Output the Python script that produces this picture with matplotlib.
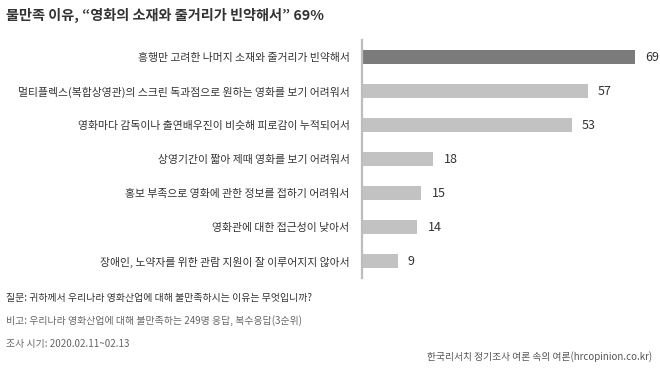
import matplotlib
matplotlib.use("Agg")
import matplotlib.pyplot as plt

plt.rcParams["font.family"] = ["Noto Sans CJK KR", "DejaVu Sans"]

# ── 데이터 ─────────────────────────────────────────
reasons = [
    "흥행만 고려한 나머지 소재와 줄거리가 빈약해서",
    "멀티플렉스(복합상영관)의 스크린 독과점으로 원하는 영화를 보기 어려워서",
    "영화마다 감독이나 출연배우진이 비슷해 피로감이 누적되어서",
    "상영기간이 짧아 제때 영화를 보기 어려워서",
    "홍보 부족으로 영화에 관한 정보를 접하기 어려워서",
    "영화관에 대한 접근성이 낮아서",
    "장애인, 노약자를 위한 관람 지원이 잘 이루어지지 않아서",
]
values = [69, 57, 53, 18, 15, 14, 9]

title = "불만족 이유, \u201c영화의 소재와 줄거리가 빈약해서\u201d 69%"
notes = [
    "질문: 귀하께서 우리나라 영화산업에 대해 불만족하시는 이유는 무엇입니까?",
    "비고: 우리나라 영화산업에 대해 불만족하는 249명 응답, 복수응답(3순위)",
    "조사 시기: 2020.02.11~02.13",
]
source = "한국리서치 정기조사 여론 속의 여론(hrcopinion.co.kr)"

# ── 그림 ───────────────────────────────────────────
W, H = 660, 368
fig = plt.figure(figsize=(W / 100, H / 100), dpi=100)
ax = fig.add_axes([362 / W, 1 - 278 / H, (W - 362) / W, 238 / H])

colors = ["#7b7b7b"] + ["#c2c2c2"] * (len(values) - 1)
ypos = list(range(len(values)))
ax.barh(ypos, values, height=0.42, color=colors)
ax.set_ylim(len(values) - 0.5, -0.5)
ax.set_xlim(0, 75.3)

for y, v in zip(ypos, values):
    ax.text(v + 2.6, y, str(v), va="center", ha="left", fontsize=9, color="#333333")

ax.set_yticks(ypos)
ax.set_yticklabels(reasons, fontsize=7.8, color="#333333")
ax.tick_params(axis="y", length=0, pad=9)
ax.set_xticks([])
for s in ["top", "right", "bottom"]:
    ax.spines[s].set_visible(False)
ax.spines["left"].set_color("#bdbdbd")
ax.spines["left"].set_linewidth(1.6)

fig.text(6 / W, 1 - 15 / H, title, fontsize=10.2, fontweight="bold",
         color="#333333", va="center", ha="left")

for i, line in enumerate(notes):
    fig.text(6 / W, 1 - (298 + i * 23) / H, line, fontsize=7.1,
             color="#333333" if i == 0 else "#666666", va="center", ha="left")
fig.text(652 / W, 1 - 357 / H, source, fontsize=7.0, color="#555555",
         va="center", ha="right")

fig.savefig("out.png", dpi=100)
